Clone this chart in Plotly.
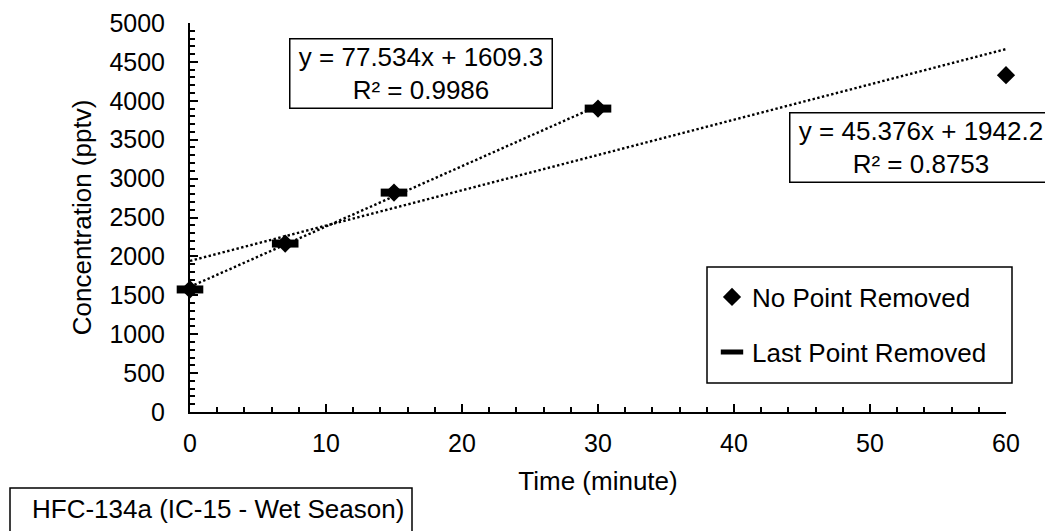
import plotly.graph_objects as go

# ---- data ----
time_all = [0, 7, 15, 30, 60]
conc_all = [1575, 2165, 2820, 3900, 4330]
time_cut = [0, 7, 15, 30]
conc_cut = [1575, 2165, 2820, 3900]

# trendline coefficients as printed on the chart
slope_all, icpt_all, r2_all = 45.376, 1942.2, 0.8753
slope_cut, icpt_cut, r2_cut = 77.534, 1609.3, 0.9986

x_ticks = [0, 10, 20, 30, 40, 50, 60]
y_ticks = list(range(0, 5001, 500))

FONT = "Liberation Sans, Arial, sans-serif"

# page body has an 8px margin; figure occupies page 8..1053 x 8..531
OFF = 8
W, H = 1053 - OFF, 531 - OFF
# plot area in page pixels: x 190..1006, y 23..412
PX0, PX1, PY0, PY1 = 190, 1006, 23, 412
L, T = PX0 - OFF, PY0 - OFF
R, B = W - (PX1 - OFF), H - (PY1 - OFF)
PW, PH = PX1 - PX0, PY1 - PY0


def px(xp):
    return (xp - PX0) / PW


def py(yp):
    return (PY1 - yp) / PH


fig = go.Figure()

# trendlines
fx_all = [min(time_all), max(time_all)]
fx_cut = [min(time_cut), max(time_cut)]
fig.add_trace(go.Scatter(
    x=fx_all, y=[slope_all * v + icpt_all for v in fx_all], mode="lines",
    line=dict(color="black", width=2.4, dash="2.4px,2.4px"), showlegend=False,
    hoverinfo="skip"))
fig.add_trace(go.Scatter(
    x=fx_cut, y=[slope_cut * v + icpt_cut for v in fx_cut], mode="lines",
    line=dict(color="black", width=2.4, dash="2.4px,2.4px"), showlegend=False,
    hoverinfo="skip"))

# data series
fig.add_trace(go.Scatter(
    x=time_cut, y=conc_cut, mode="markers", name="Last Point Removed",
    marker=dict(symbol="line-ew", size=19, line=dict(color="black", width=8)),
    cliponaxis=False, legend="legend2"))
fig.add_trace(go.Scatter(
    x=time_all, y=conc_all, mode="markers", name="No Point Removed",
    marker=dict(symbol="diamond", size=14, color="black"),
    cliponaxis=False, legend="legend"))

axis_common = dict(
    showline=True, linecolor="black", linewidth=2, mirror=False,
    showgrid=False, zeroline=False, ticks="inside", ticklen=8, tickwidth=2,
    tickcolor="black", tickfont=dict(family=FONT, size=25, color="black"),
)

fig.update_xaxes(
    **axis_common, range=[0, 60], tickvals=x_ticks, ticklabelstandoff=8,
    minor=dict(ticks="inside", dtick=2, ticklen=5, tickwidth=2, tickcolor="black"),
    title=dict(text="Time (minute)", font=dict(family=FONT, size=26, color="black"),
               standoff=16),
)
fig.update_yaxes(
    **axis_common, range=[0, 5000], tickvals=y_ticks, ticklabelstandoff=18,
    minor=dict(ticks="inside", dtick=100, ticklen=5, tickwidth=2, tickcolor="black"),
    title=dict(text="Concentration (pptv)", font=dict(family=FONT, size=26, color="black"),
               standoff=10),
)

legend_common = dict(
    xanchor="left", yanchor="middle", bgcolor="rgba(0,0,0,0)", borderwidth=0,
    font=dict(family=FONT, size=26, color="black"),
)

annotations = [
    dict(xref="paper", yref="paper", x=px(421), y=py(73), xanchor="center",
         yanchor="middle", showarrow=False,
         text=f"y = {slope_cut}x + {icpt_cut}<br>R² = {r2_cut}",
         font=dict(family=FONT, size=26, color="black"),
         bordercolor="black", borderwidth=1.5, borderpad=1, bgcolor="white",
         width=259, height=66, align="center"),
    dict(xref="paper", yref="paper", x=px(920.5), y=py(147), xanchor="center",
         yanchor="middle", showarrow=False,
         text=f"y = {slope_all}x + {icpt_all}<br>R² = {r2_all}",
         font=dict(family=FONT, size=26, color="black"),
         bordercolor="black", borderwidth=1.5, borderpad=1, bgcolor="white",
         width=259, height=66, align="center"),
    dict(xref="paper", yref="paper", x=px(30), y=py(509), xanchor="left",
         yanchor="middle", showarrow=False,
         text="HFC-134a (IC-15 - Wet Season)",
         font=dict(family=FONT, size=26, color="black")),
]

shapes = [
    dict(type="rect", xref="paper", yref="paper", x0=px(707), x1=px(1012),
         y0=py(383), y1=py(267), line=dict(color="black", width=1.5),
         fillcolor="rgba(0,0,0,0)", layer="above"),
    dict(type="rect", xref="paper", yref="paper", x0=px(10), x1=px(412),
         y0=py(545), y1=py(488), line=dict(color="black", width=1.5),
         fillcolor="rgba(0,0,0,0)", layer="above"),
]

fig.update_layout(
    width=W, height=H,
    margin=dict(l=L, r=R, t=T, b=B, autoexpand=False),
    paper_bgcolor="white", plot_bgcolor="white",
    font=dict(family=FONT, size=26, color="black"),
    showlegend=True,
    legend=dict(**legend_common, x=px(712), y=py(297)),
    legend2=dict(**legend_common, x=px(712), y=py(352)),
    annotations=annotations,
    shapes=shapes,
)

fig.write_html("out.html")
